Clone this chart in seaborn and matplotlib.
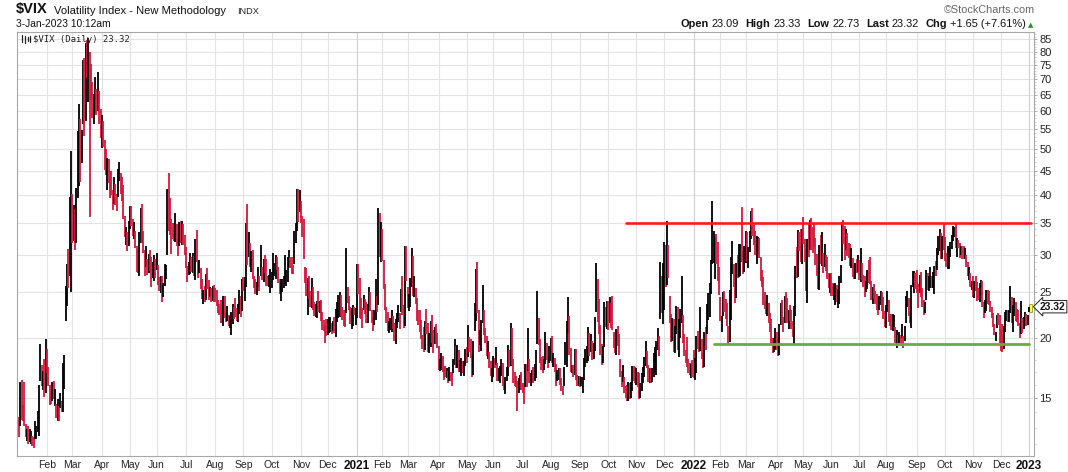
import numpy as np
import pandas as pd
import matplotlib
matplotlib.use("Agg")
import matplotlib.pyplot as plt
import seaborn as sns
from matplotlib.lines import Line2D
from matplotlib.patches import Rectangle
from matplotlib.transforms import blended_transform_factory

# ---------------- data (daily VIX) ----------------
prev_close_2019 = 13.8

close_2020 = [
    12.5,14.0,13.9,13.8,13.5,12.5,12.6,12.3,12.4,12.4,12.3,12.1,12.9,12.9,13.0,14.6,18.2,16.3,16.4,15.5,18.8,
    18.0,16.1,15.2,15.0,15.5,15.0,15.2,13.7,14.2,13.7,14.8,14.4,15.6,17.1,25.0,27.9,27.6,39.2,40.1,
    33.4,36.8,32.0,39.6,41.9,54.5,47.3,53.9,75.5,57.8,82.7,75.9,76.5,72.0,66.0,61.6,61.7,64.0,61.0,65.5,57.1,53.5,
    57.1,50.9,46.8,45.2,46.7,43.4,41.7,41.2,37.8,40.8,40.1,38.2,43.8,45.4,42.0,41.4,35.9,33.3,33.6,31.2,34.2,
    37.2,36.0,33.6,34.1,31.4,28.0,27.6,33.0,35.3,32.6,31.9,29.3,30.5,28.0,29.5,28.2,27.9,28.0,28.6,27.5,
    28.2,26.8,25.7,25.8,24.5,25.8,27.6,27.6,40.8,36.1,34.4,33.7,33.5,32.9,35.1,31.8,31.4,33.8,32.2,34.7,31.8,30.4,
    28.6,27.7,27.9,29.4,28.1,29.3,27.3,32.2,29.5,27.8,28.0,25.7,24.5,24.8,24.3,26.1,25.8,24.7,25.4,24.1,24.8,24.5,
    24.3,23.8,23.0,22.7,22.2,22.1,24.0,22.3,22.1,22.1,21.4,21.5,22.5,22.7,22.5,22.4,22.0,23.3,24.5,23.0,26.4,
    26.1,26.6,33.6,30.8,31.5,28.8,29.7,26.9,25.9,25.6,26.0,26.5,25.8,27.8,26.9,28.6,28.5,26.4,26.2,26.3,26.4,
    26.7,27.6,28.0,29.5,28.1,26.4,25.0,25.1,26.1,26.4,27.0,27.4,29.2,29.4,28.7,28.1,27.6,32.5,33.4,40.3,37.6,38.0,
    37.1,35.6,29.6,27.6,24.9,25.8,24.8,23.5,25.4,23.1,22.5,22.7,23.8,23.1,23.7,22.7,21.6,21.3,20.8,20.6,
    20.8,21.2,21.3,20.8,21.3,20.7,22.3,22.5,23.3,24.7,22.9,22.5,21.9,21.6,25.2,24.2,23.3,21.5,21.7,23.1,22.8,22.8,
]
high_2020 = [
    13.7,16.2,16.4,14.5,16.2,13.2,12.9,13.1,12.9,12.8,12.5,12.4,13.4,13.1,14.1,16.0,19.5,17.6,17.1,18.1,19.9,
    19.0,17.4,16.0,15.5,16.2,16.3,15.7,14.6,14.9,14.4,15.4,14.8,17.8,18.5,25.8,28.6,30.8,39.6,49.5,
    40.3,38.2,37.4,41.3,54.4,62.1,57.9,54.9,76.8,77.6,83.6,84.8,85.5,80.0,75.4,69.0,65.2,70.7,66.8,72.6,66.1,60.6,
    58.8,57.2,52.3,49.9,47.9,47.7,45.0,44.9,40.9,43.6,42.2,40.3,45.3,47.0,44.4,43.6,42.1,36.2,34.2,33.4,35.3,
    38.0,37.9,35.7,35.1,33.7,31.3,30.7,33.4,37.6,38.3,33.6,30.6,31.3,29.3,30.1,30.6,29.6,28.9,30.0,29.4,
    30.2,28.5,26.9,27.0,27.0,26.2,28.6,28.5,41.2,44.4,39.5,35.6,35.0,35.0,36.7,34.7,32.5,35.2,35.3,35.3,34.7,33.0,
    31.1,28.4,28.9,30.3,29.7,30.2,29.8,32.4,33.8,29.2,29.2,28.1,26.7,25.3,25.8,27.3,28.1,26.5,25.7,25.5,25.8,25.9,
    25.5,25.3,24.1,23.6,24.1,23.3,24.5,24.6,22.6,23.4,22.4,22.3,22.7,23.6,23.3,24.3,23.2,23.6,25.3,24.6,26.6,
    26.9,26.9,35.0,38.3,33.4,31.7,30.5,30.6,27.0,26.6,26.3,28.2,27.1,31.4,28.2,29.3,30.0,29.3,27.0,27.2,28.0,
    27.6,30.3,28.8,29.9,29.7,28.2,26.6,26.7,26.7,27.1,30.0,27.9,29.7,30.6,29.6,29.6,28.5,33.6,35.0,41.2,41.1,41.0,
    38.8,36.1,35.7,28.2,28.1,26.8,27.1,25.1,26.8,25.6,23.9,23.6,24.0,25.1,24.0,24.1,22.7,21.9,21.3,22.0,
    22.0,22.2,22.2,21.6,21.8,22.2,23.1,23.9,24.7,25.0,24.7,23.3,22.9,22.9,31.0,25.6,24.6,23.3,23.2,23.5,23.3,23.2,
]
low_2020 = [
    12.4,13.1,13.5,13.4,13.1,12.4,12.2,12.0,12.1,12.0,11.9,11.75,12.3,12.3,12.7,12.5,16.3,15.9,15.6,15.1,15.4,
    16.9,15.9,14.5,14.6,14.8,14.9,14.4,13.6,13.4,13.4,14.3,14.0,14.0,15.7,21.8,23.4,25.5,27.0,25.0,
    31.7,32.0,30.6,31.8,39.5,41.8,42.7,46.8,56.4,53.3,57.1,70.4,62.8,36.0,63.4,58.0,56.4,59.6,59.0,60.0,56.5,52.6,
    50.3,50.5,45.1,44.1,41.0,42.4,39.5,40.1,37.2,38.3,38.2,37.1,39.7,42.9,40.2,38.9,35.6,32.6,31.4,30.5,31.2,
    33.9,34.5,32.9,32.4,30.9,27.6,27.4,27.0,31.7,31.8,30.2,27.0,28.2,27.2,27.5,27.7,25.7,26.8,26.4,26.8,
    27.8,25.9,25.2,24.9,23.9,24.4,25.8,26.6,29.9,33.6,33.0,30.1,32.3,32.0,31.9,31.2,29.8,31.3,31.7,31.4,31.4,29.9,
    28.1,26.3,27.2,27.3,27.6,27.5,27.0,26.5,29.0,26.8,27.5,25.4,24.2,23.6,23.9,24.1,25.4,24.1,24.4,23.9,24.0,23.8,
    23.8,23.4,22.6,22.4,21.6,21.7,21.2,22.1,21.7,21.8,21.2,21.0,20.3,21.4,22.0,22.2,21.8,21.7,22.5,22.2,22.8,
    25.2,24.0,25.7,28.5,29.7,28.3,27.6,26.6,25.5,24.8,24.7,25.6,25.2,27.1,26.5,26.3,27.5,25.8,25.8,25.6,24.9,
    25.5,26.5,27.0,26.7,27.8,26.1,24.8,24.0,25.0,25.5,26.0,25.8,26.3,28.3,28.1,27.3,27.3,28.6,31.8,33.6,35.1,36.9,
    34.9,32.7,29.4,26.2,24.6,22.4,24.2,23.3,23.2,22.9,22.3,22.2,22.1,22.7,22.6,21.8,20.8,20.7,19.6,20.2,
    20.3,20.5,20.6,20.4,20.7,20.5,20.1,21.7,22.1,22.2,22.3,21.9,21.2,21.1,22.6,23.7,22.9,21.4,20.9,21.2,22.4,21.3,
]

close_2021 = [
    27.0,25.3,25.1,22.4,21.6,24.1,23.3,22.2,23.3,24.3,23.2,21.6,21.3,21.9,23.2,23.0,37.2,30.2,33.1,
    30.2,25.6,22.9,21.8,20.9,21.2,21.6,22.0,21.3,20.0,21.5,21.5,22.5,22.1,23.5,23.1,21.3,28.9,28.0,
    23.4,24.1,26.7,28.6,24.7,25.5,24.0,22.6,21.9,20.7,20.0,19.8,19.2,21.6,21.0,18.9,20.3,21.2,19.8,18.9,20.7,19.6,19.4,
    17.3,17.9,18.1,17.2,17.0,16.7,16.9,16.7,17.0,16.6,16.3,17.3,18.7,17.5,18.7,17.3,17.6,17.6,17.3,17.6,18.6,
    18.3,19.5,19.2,18.4,16.7,19.7,21.8,27.6,23.1,18.8,19.7,21.3,22.2,20.7,20.2,18.4,18.8,17.4,16.7,16.8,
    17.9,17.5,18.0,16.4,16.4,17.1,17.9,16.1,15.7,16.4,17.0,18.2,17.8,20.7,17.9,16.7,16.3,16.0,15.6,15.8,16.0,15.8,
    15.5,15.1,16.4,16.2,19.0,16.2,16.2,17.1,16.3,17.0,18.5,22.5,19.7,17.9,17.7,17.2,17.6,19.4,18.3,17.7,18.2,
    19.5,18.0,18.0,17.3,16.2,16.7,16.8,16.1,15.6,15.5,16.1,17.9,21.6,21.7,18.6,17.2,17.2,16.8,18.8,16.4,16.1,16.5,
    16.1,16.4,16.4,18.0,18.3,18.8,21.0,19.4,19.5,18.2,18.7,20.8,25.7,24.4,20.9,18.6,17.8,18.8,23.3,22.6,23.1,
    21.2,23.0,21.3,21.0,19.5,18.8,20.0,19.9,18.6,16.9,16.3,16.3,15.7,15.5,15.0,15.4,15.2,16.0,17.0,16.5,16.3,
    16.4,16.0,15.1,16.0,16.5,17.2,17.8,18.7,17.7,16.3,16.5,16.4,17.1,17.6,17.9,19.2,19.4,18.6,28.6,23.0,27.2,
    31.1,26.2,30.7,27.2,21.9,19.9,21.6,18.7,20.3,21.9,19.3,20.6,21.6,22.9,19.7,18.6,18.0,17.7,17.5,17.0,17.3,17.2,
]
high_2021 = [
    28.6,28.6,26.8,24.3,23.2,24.7,24.2,23.8,23.6,25.6,25.0,23.0,22.2,23.0,26.6,24.5,37.5,36.7,35.2,
    34.0,29.2,26.0,23.3,22.7,21.8,22.1,23.0,22.3,21.6,22.0,22.6,23.5,22.6,25.4,27.0,23.5,31.2,31.2,
    25.6,24.8,26.8,31.0,29.8,27.0,25.5,24.3,22.9,23.0,21.9,20.3,21.1,21.8,23.1,21.6,20.5,21.8,22.4,20.8,21.1,21.4,20.5,
    19.3,18.1,18.6,18.4,17.4,17.5,17.3,17.1,17.4,17.0,16.9,18.1,19.9,19.3,19.4,18.9,18.0,18.2,17.9,17.9,19.0,
    19.2,21.3,20.1,19.9,18.5,19.8,23.7,28.0,28.9,22.9,20.8,21.9,25.9,23.0,21.0,20.2,19.8,18.7,17.9,17.3,
    18.4,18.2,19.2,17.8,17.3,17.5,18.1,17.8,16.3,16.6,17.4,19.4,18.9,21.5,21.0,18.1,17.0,16.7,16.3,16.5,16.8,17.0,
    16.1,15.8,17.7,17.7,21.0,18.1,16.9,17.2,17.4,17.7,18.9,25.1,22.1,19.9,18.3,18.4,18.1,20.6,19.6,18.4,19.3,
    20.0,20.2,18.6,18.2,17.7,17.2,17.3,17.3,16.5,15.9,17.4,19.7,21.8,24.4,22.3,19.1,17.6,17.6,19.0,19.0,16.8,16.7,
    16.7,16.6,16.6,18.2,19.0,19.3,21.1,20.5,20.4,19.8,19.6,22.2,28.8,26.6,24.2,21.3,19.5,19.3,23.9,23.3,24.0,
    24.0,24.4,23.7,24.6,20.6,20.0,20.9,21.2,20.4,18.1,17.1,17.6,16.6,15.9,16.0,16.2,16.1,16.2,17.5,17.5,17.4,
    17.3,17.0,16.9,16.1,16.9,17.4,18.3,19.8,18.8,17.6,17.3,17.3,17.3,18.6,19.2,19.8,21.0,20.2,28.9,27.0,28.8,
    31.9,31.4,35.3,31.4,24.6,22.5,22.1,22.0,21.2,23.4,23.3,22.0,23.1,27.0,22.4,20.4,18.9,20.1,18.1,17.8,17.7,18.0,
]
low_2021 = [
    22.1,24.8,22.1,22.0,21.0,22.9,22.5,21.6,21.6,22.8,22.8,21.5,20.7,21.3,21.9,22.7,23.5,29.6,28.9,
    29.1,25.4,22.9,21.5,20.7,20.5,20.8,20.6,20.9,19.8,19.5,21.0,21.7,20.9,22.7,22.4,21.0,21.2,26.4,
    23.2,22.8,23.3,25.7,24.5,24.4,23.6,21.8,21.3,20.6,19.9,19.0,18.7,18.9,20.4,18.7,18.6,19.2,19.6,18.6,19.5,19.5,19.1,
    17.2,17.1,17.2,17.0,16.4,16.6,16.5,16.1,16.3,16.3,15.9,16.9,17.6,17.3,17.3,17.0,17.0,16.7,16.9,16.7,17.5,
    17.8,18.3,18.7,18.2,16.6,16.8,20.7,21.8,22.6,18.7,19.4,18.8,21.5,20.3,19.6,18.4,18.1,17.3,16.7,16.2,
    16.6,17.3,17.6,16.3,16.3,16.1,16.7,15.9,15.6,15.3,16.3,16.7,17.4,17.5,17.6,16.1,15.9,15.8,14.1,15.4,15.6,15.6,
    15.4,14.6,15.8,15.8,17.1,16.1,15.9,16.1,16.1,16.3,16.5,19.5,19.4,17.8,17.2,16.9,17.2,17.7,18.0,17.3,17.8,
    17.9,17.8,17.4,17.0,15.9,16.3,16.4,16.0,15.5,15.2,15.9,17.6,17.4,20.5,18.5,17.0,16.9,16.6,16.8,16.4,15.9,15.9,
    15.8,15.9,15.4,16.4,17.4,17.8,17.9,18.4,18.7,18.0,18.1,18.8,22.7,21.7,20.4,18.5,17.6,17.8,19.2,21.1,20.9,
    20.8,21.6,21.0,20.8,19.1,18.6,18.5,19.3,18.5,16.6,15.8,16.2,15.4,15.0,14.8,14.8,14.9,15.0,15.5,16.3,16.1,
    16.0,15.8,14.9,15.0,15.5,16.1,16.6,17.5,17.3,16.2,16.1,16.1,16.2,16.6,17.0,16.8,18.9,18.4,22.0,22.6,21.4,
    22.9,25.7,25.9,26.8,21.6,19.7,19.8,18.7,18.6,20.4,18.9,18.3,20.0,21.5,19.6,18.4,17.8,17.4,16.9,16.8,16.5,16.6,
]

close_2022 = [
    16.6,16.9,19.7,19.6,18.8,19.4,18.4,17.6,20.3,19.2,22.8,23.9,25.6,28.9,29.9,31.2,32.0,30.5,27.7,24.8,
    22.0,22.1,24.4,23.2,22.9,21.4,20.0,23.9,27.4,28.3,25.7,24.3,28.1,27.8,28.8,31.0,30.3,27.6,30.2,
    33.3,29.6,30.5,32.0,36.5,35.1,32.5,30.2,30.8,31.8,29.8,26.7,25.7,23.9,23.5,22.9,23.6,21.7,20.8,19.6,18.9,19.3,20.6,
    19.6,18.6,21.0,22.1,21.6,21.2,24.4,24.3,21.8,22.7,22.2,21.4,20.3,22.7,28.2,27.0,33.5,31.6,30.0,33.4,
    32.3,29.3,25.4,31.2,30.2,34.8,33.0,32.6,31.8,28.9,27.5,26.1,31.0,29.4,29.4,28.5,29.5,28.4,27.5,25.7,26.2,
    25.7,24.7,24.8,25.1,24.0,24.0,26.1,27.8,34.0,32.7,29.6,33.0,31.1,30.2,29.0,29.1,27.2,27.0,28.4,28.2,28.7,
    26.7,27.5,26.7,26.1,24.6,26.2,27.3,26.8,26.4,24.2,25.3,24.5,23.9,23.1,23.0,23.4,24.7,23.2,22.3,21.3,
    22.8,23.9,22.0,21.4,21.2,21.3,21.8,19.7,20.2,19.5,20.0,19.7,20.5,19.6,20.6,23.8,24.1,22.8,21.8,25.6,26.2,26.2,25.9,
    25.6,25.5,26.9,24.6,23.6,22.8,23.9,27.3,26.2,26.3,26.3,25.8,27.2,28.0,27.4,29.9,32.3,32.6,30.2,31.8,31.6,
    29.6,28.6,28.6,30.5,31.4,32.5,33.6,33.6,31.9,32.0,31.4,30.5,30.8,30.0,29.7,29.9,28.5,27.3,27.4,25.8,25.9,
    25.8,25.9,25.3,24.6,24.4,25.5,26.1,23.5,22.5,23.7,24.5,24.1,23.9,23.1,22.4,21.2,20.4,20.5,22.2,21.9,20.6,
    19.8,19.1,20.8,22.2,22.7,22.3,22.8,25.0,22.6,22.6,22.8,22.6,22.4,21.4,20.1,22.0,20.9,21.7,22.1,21.4,21.7,
]
high_2022 = [
    18.9,18.2,20.2,20.7,20.0,23.3,19.9,18.6,20.6,21.1,23.6,24.9,26.1,29.2,38.9,33.7,32.6,33.2,31.9,28.2,
    24.4,22.3,25.0,25.1,24.2,23.7,21.2,25.3,29.7,32.0,28.6,27.2,28.8,29.9,31.5,31.5,37.8,30.5,31.3,
    33.6,33.4,31.1,33.6,37.0,37.5,34.6,33.6,32.9,32.7,32.5,29.6,27.9,26.9,25.0,24.0,24.7,23.7,22.6,22.0,20.0,20.0,21.0,
    20.6,20.0,21.4,23.7,24.1,22.2,24.6,25.0,24.3,22.9,23.5,23.0,21.8,23.4,28.4,31.1,33.8,33.5,33.9,34.0,
    36.0,32.3,30.8,32.3,34.9,35.5,35.8,34.3,35.0,32.5,30.1,28.2,31.4,33.0,33.4,30.3,31.5,30.0,29.7,27.5,27.3,
    27.5,26.2,26.0,26.1,25.9,25.4,27.1,28.5,35.1,35.5,34.4,34.0,33.3,31.8,31.6,30.9,29.5,28.5,28.8,29.3,30.0,
    29.2,31.0,28.8,27.2,27.1,26.4,27.9,29.2,29.6,26.4,25.7,26.0,25.2,24.8,24.4,24.6,25.1,25.0,24.4,22.8,
    23.5,25.1,24.1,22.5,22.5,22.5,22.4,21.1,20.8,20.3,20.6,20.3,21.4,20.2,21.2,24.5,25.1,24.3,22.8,25.9,27.7,27.7,27.5,
    27.8,26.0,27.2,27.6,25.5,24.1,23.9,27.8,27.4,27.0,28.2,27.0,27.6,28.4,29.1,31.0,32.8,34.0,33.3,32.9,34.9,
    32.6,30.2,31.3,31.0,31.9,33.0,34.5,34.3,34.9,32.5,32.2,31.7,31.3,31.2,31.3,31.0,30.0,28.9,28.3,27.5,26.4,
    27.0,26.4,27.1,26.3,25.5,26.2,26.5,26.4,23.9,24.1,25.3,25.3,25.2,24.0,23.3,22.6,21.4,20.6,22.4,22.6,22.4,
    20.8,21.4,21.2,22.7,23.0,22.9,23.0,25.8,24.4,23.5,24.3,23.9,23.1,22.9,21.5,24.0,22.1,22.2,22.7,22.5,22.4,
]
low_2022 = [
    16.5,16.4,16.9,19.0,18.7,18.8,18.1,17.3,17.4,18.9,20.4,21.9,22.2,24.8,28.7,28.8,26.6,28.6,26.4,24.7,
    21.8,20.6,22.3,22.7,22.0,21.2,19.5,19.7,21.9,27.3,25.6,23.7,24.3,26.8,26.9,27.0,28.9,27.3,27.6,
    28.8,29.0,28.1,30.4,32.3,32.8,31.4,30.0,28.6,30.1,29.5,26.4,25.6,23.5,23.1,22.5,22.3,21.5,20.6,19.5,18.6,18.7,18.9,
    18.9,18.4,18.5,21.3,21.3,20.6,21.5,21.5,21.6,20.9,21.8,20.9,20.1,19.5,22.3,26.8,26.9,30.5,28.9,28.6,
    31.5,28.9,25.1,23.7,29.7,30.6,30.6,30.3,31.1,28.5,27.1,25.4,25.3,28.6,28.4,27.4,28.3,27.7,26.7,25.5,24.9,
    24.6,24.5,24.1,23.5,23.8,23.2,23.6,26.2,29.1,31.6,29.2,30.6,29.8,29.5,28.4,28.1,26.9,26.7,26.6,27.5,27.6,
    26.5,26.3,26.5,25.7,24.4,25.0,25.4,26.1,26.0,24.1,23.6,24.2,23.6,22.9,22.4,22.9,23.5,22.8,22.0,21.1,
    21.0,22.7,21.7,21.2,20.8,20.7,21.1,19.6,19.1,19.4,19.6,19.3,20.0,19.1,19.8,21.6,23.3,22.3,21.5,21.0,25.6,24.9,25.4,
    24.9,23.2,24.9,24.4,23.3,22.4,22.6,24.1,25.3,25.2,25.5,25.5,25.5,24.8,27.0,27.8,29.9,30.5,29.3,29.3,30.6,
    29.1,28.2,28.0,28.0,29.7,30.8,32.0,32.6,31.0,29.7,30.9,29.5,29.9,29.4,29.3,29.4,28.3,27.1,26.5,25.6,25.3,
    24.4,24.3,25.1,24.0,24.1,23.9,24.7,23.3,22.1,22.6,22.8,23.6,23.5,22.7,22.1,21.1,20.3,19.8,21.0,21.3,19.6,
    18.8,18.7,19.0,20.6,21.8,21.7,21.7,22.6,21.6,20.6,22.3,21.8,21.7,21.2,20.0,20.4,20.5,20.9,21.2,21.2,21.3,
]

# 3-Jan-2023 intraday bar: open, high, low, last
last_bar = [23.09, 23.33, 22.73, 23.32]
last_change = [1.65, 7.61]

# drawn trend lines: level and start date
resistance_level = 34.9
resistance_start = "2021-10-20"
support_level = 19.5
support_start = "2022-01-25"

month_names = ["Jan", "Feb", "Mar", "Apr", "May", "Jun", "Jul", "Aug", "Sep", "Oct", "Nov", "Dec"]
y_tick_values = [15, 20, 25, 30, 35, 40, 45, 50, 55, 60, 65, 70, 75, 80, 85]

nyse_holidays = ["2020-01-20", "2020-02-17", "2020-04-10", "2020-05-25", "2020-07-03", "2020-09-07",
                 "2020-11-26", "2020-12-25", "2021-01-01", "2021-01-18", "2021-02-15", "2021-04-02",
                 "2021-05-31", "2021-07-05", "2021-09-06", "2021-11-25", "2021-12-24", "2022-01-17",
                 "2022-02-21", "2022-04-15", "2022-05-30", "2022-06-20", "2022-07-04", "2022-09-05",
                 "2022-11-24", "2022-12-26", "2023-01-02"]

# ---------------- assemble ----------------
days = pd.bdate_range("2020-01-02", "2023-01-03")
days = days[~days.isin(pd.to_datetime(nyse_holidays))]

close = np.array(close_2020 + close_2021 + close_2022 + [last_bar[3]])
high = np.array(high_2020 + high_2021 + high_2022 + [last_bar[1]])
low = np.array(low_2020 + low_2021 + low_2022 + [last_bar[2]])
n = min(len(days), len(close), len(high), len(low))
days = days[-n:] if len(days) > n else days
close, high, low = close[:n], high[:n], low[:n]
idx = np.arange(n)
prev = np.concatenate([[prev_close_2019], close[:-1]])
up = close >= prev

df = pd.DataFrame({"i": idx, "high": high, "low": low, "up": up})

# ---------------- figure ----------------
sns.set_style("white")
plt.rcParams['font.family'] = ['Liberation Sans', 'DejaVu Sans']

W, H = 1068, 472
fig = plt.figure(figsize=(W / 100, H / 100), dpi=100)
ax = fig.add_axes([17 / W, 16 / H, 1017 / W, 424 / H])
ax.set_yscale("log")
ax.set_ylim(11.33, 88.0)
ax.set_xlim(-1.5, 759.7)

RED = "#d4173c"
cols = np.where(df["up"], "#000000", RED)
ax.vlines(df["i"], df["low"], df["high"], colors=cols, linewidth=1.3, zorder=3)

# last (live) bar highlight
li = idx[-1]
ax.add_patch(Rectangle((li - 0.3, last_bar[2] - 0.05), 2.2, last_bar[1] - last_bar[2] + 0.35,
                       facecolor="#ffff55", edgecolor="#888800", linewidth=0.5, zorder=4))
ax.vlines([li], [last_bar[2]], [last_bar[1]], colors="k", linewidth=1.2, zorder=5)

# grid
for v in y_tick_values:
    ax.axhline(v, color="#e3e3e3", linewidth=0.8, zorder=0)
month_pos, month_lab, is_year = [], [], []
for y in (2020, 2021, 2022, 2023):
    for m in range(1, 13):
        if (y == 2020 and m == 1) or (y == 2023 and m > 1):
            continue
        start = pd.Timestamp(y, m, 1)
        k = int(np.searchsorted(days.values, start.to_datetime64()))
        if k >= n:
            continue
        month_pos.append(k)
        month_lab.append(str(y) if m == 1 else month_names[m - 1])
        is_year.append(m == 1)
for p, yr in zip(month_pos, is_year):
    ax.axvline(p, color="#cfcfcf" if yr else "#e3e3e3", linewidth=0.8, zorder=0)

# trend lines (seaborn)
def idx_of(d):
    return int(np.searchsorted(days.values, pd.Timestamp(d).to_datetime64()))

res_df = pd.DataFrame({"x": [idx_of(resistance_start), li + 1.5], "y": [resistance_level, resistance_level]})
sup_df = pd.DataFrame({"x": [idx_of(support_start), li], "y": [support_level, support_level]})
sns.lineplot(data=res_df, x="x", y="y", ax=ax, color="#ff1a1a", linewidth=1.9, zorder=6, legend=False)
sns.lineplot(data=sup_df, x="x", y="y", ax=ax, color="#6aac3c", linewidth=2.0, zorder=6, legend=False)
ax.set_xlabel("")
ax.set_ylabel("")

# axes styling
for s in ax.spines.values():
    s.set_color("#a8a8a8")
    s.set_linewidth(0.8)
ax.yaxis.tick_right()
ax.set_yticks(y_tick_values)
ax.set_yticklabels([str(v) for v in y_tick_values])
ax.set_yticks([v for v in range(12, 88) if v % 5 != 0], minor=True)
ax.yaxis.set_minor_formatter(matplotlib.ticker.NullFormatter())
ax.tick_params(axis="y", which="major", length=2.5, width=0.6, color="#999999", labelsize=8, pad=1.5,
               labelcolor="#222222")
ax.tick_params(axis="y", which="minor", length=1.5, width=0.5, color="#bbbbbb")
ax.set_xticks(month_pos)
ax.set_xticklabels(month_lab)
ax.tick_params(axis="x", length=0, labelsize=7.5, pad=3, labelcolor="#222222")
for t, yr in zip(ax.get_xticklabels(), is_year):
    if yr:
        t.set_fontweight("bold")
        t.set_fontsize(8.5)
        t.set_color("#111111")

# price label on the right axis
tr = blended_transform_factory(ax.transAxes, ax.transData)
ax.text((1040 - 17) / 1017, last_bar[3], f"{last_bar[3]:.2f}", transform=tr, ha="left", va="center",
        fontsize=7.4, fontweight="bold", color="#111111", zorder=10, clip_on=False,
        bbox=dict(boxstyle="larrow,pad=0.12", fc="white", ec="#222222", lw=0.7))

# ---------------- header texts ----------------
def fy(y):
    return 1 - y / H

fig.text(16 / W, fy(13.5), "$VIX", fontsize=10.5, fontweight="bold", va="baseline", color="#111111")
fig.text(54 / W, fy(13.5), "Volatility Index - New Methodology", fontsize=8.1, va="baseline", color="#111111")
fig.text(237 / W, fy(13.5), "INDX", fontsize=6.6, va="baseline", color="#222222")
fig.text(16 / W, fy(27.3), "3-Jan-2023 10:12am", fontsize=7.4, va="baseline", color="#111111")
fig.text(1035 / W, fy(13.2), "\u00a9StockCharts.com", fontsize=7.8, va="baseline", ha="right", color="#666666")

renderer = fig.canvas.get_renderer()
pieces = [("Open", True), (f"{last_bar[0]:.2f}", False), ("High", True), (f"{last_bar[1]:.2f}", False),
          ("Low", True), (f"{last_bar[2]:.2f}", False), ("Last", True), (f"{last_bar[3]:.2f}", False),
          ("Chg", True), (f"+{last_change[0]:.2f} (+{last_change[1]:.2f}%)", False)]
xr = 1026.0
for j, (txt, bold) in enumerate(reversed(pieces)):
    t = fig.text(xr / W, fy(27.3), txt, fontsize=7.9, va="baseline", ha="right",
                 fontweight="bold" if bold else "normal", color="#111111")
    w = t.get_window_extent(renderer).width
    xr -= w + (3.0 if not bold else 6.5)
fig.text(1031 / W, fy(27.0), "\u25b2", fontsize=5, va="baseline", ha="center", color="#2e8b2e",
         family="DejaVu Sans")

# in-plot legend: icon + series label
for xx, y1, y2 in [(21.5, 35, 42), (24.5, 36, 43), (27.5, 37, 41), (30, 35.5, 41.5)]:
    fig.add_artist(Line2D([xx / W, xx / W], [fy(y1), fy(y2)], color="#222222", linewidth=0.9))
fig.text(33 / W, fy(42), "$VIX (Daily) 23.32", fontsize=6.5, family="DejaVu Sans Mono", va="baseline",
         color="#222222")

fig.savefig("out.png", dpi=100)
